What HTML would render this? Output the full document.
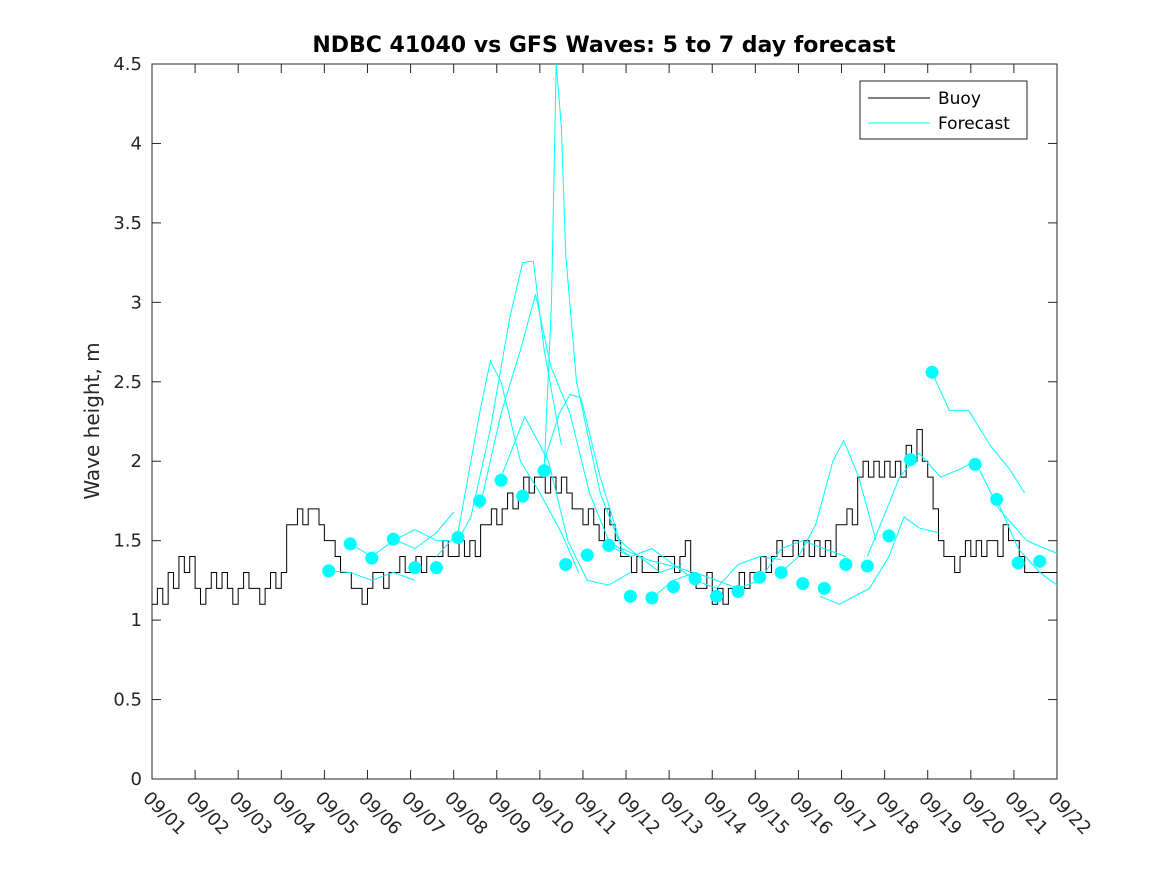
<!DOCTYPE html>
<html><head><meta charset="utf-8">
<style>
body{margin:0;background:#fff;}
svg{display:block;font-family:"DejaVu Sans","Liberation Sans",sans-serif;}
</style></head>
<body>
<svg id="chart" width="1167" height="875" viewBox="0 0 1167 875" xmlns="http://www.w3.org/2000/svg">
<rect width="1167" height="875" fill="#fff"/>
<text x="604" y="52" text-anchor="middle" font-size="22" font-weight="bold" fill="#000">NDBC 41040 vs GFS Waves: 5 to 7 day forecast</text>
<text transform="translate(99,421) rotate(-90)" text-anchor="middle" font-size="20" fill="#262626">Wave height, m</text>
<rect x="152" y="64" width="905" height="715" fill="#fff" stroke="#262626" stroke-width="1"/>
<g id="axes"></g>
<g id="series"></g>
<g>
<rect x="860" y="81" width="167" height="58" fill="#fff" stroke="#262626" stroke-width="1"/>
<line x1="868" y1="98" x2="930" y2="98" stroke="#000" stroke-width="1"/>
<text x="938" y="104" font-size="17" fill="#000">Buoy</text>
<line x1="868" y1="123" x2="930" y2="123" stroke="#00ffff" stroke-width="1"/>
<text x="938" y="129" font-size="17" fill="#000">Forecast</text>
</g>
</svg>
<script>
const xTickLabels=["09/01","09/02","09/03","09/04","09/05","09/06","09/07","09/08","09/09","09/10","09/11","09/12","09/13","09/14","09/15","09/16","09/17","09/18","09/19","09/20","09/21","09/22"];
const yTicks=[0,0.5,1,1.5,2,2.5,3,3.5,4,4.5];
const yTickLabels=["0","0.5","1","1.5","2","2.5","3","3.5","4","4.5"];
// buoy values every 3 hours from 09/01
const buoy=[
1.1,1.2,1.1,1.3,1.2,1.4,1.3,1.4,
1.2,1.1,1.2,1.3,1.2,1.3,1.2,1.1,
1.2,1.3,1.2,1.2,1.1,1.2,1.3,1.2,
1.3,1.6,1.6,1.7,1.6,1.7,1.7,1.6,
1.5,1.5,1.4,1.3,1.3,1.2,1.2,1.1,
1.2,1.3,1.3,1.2,1.3,1.3,1.4,1.3,
1.3,1.4,1.3,1.4,1.4,1.4,1.5,1.4,
1.4,1.5,1.4,1.5,1.4,1.6,1.6,1.7,
1.6,1.7,1.8,1.7,1.8,1.9,1.8,1.9,
1.9,1.8,1.9,1.8,1.9,1.8,1.7,1.7,
1.6,1.7,1.6,1.5,1.7,1.6,1.5,1.4,
1.4,1.3,1.4,1.3,1.3,1.3,1.4,1.4,
1.4,1.3,1.4,1.5,1.3,1.2,1.2,1.3,
1.1,1.2,1.1,1.2,1.2,1.3,1.2,1.3,
1.3,1.4,1.3,1.4,1.5,1.4,1.4,1.5,
1.4,1.5,1.4,1.5,1.4,1.5,1.4,1.6,
1.6,1.7,1.6,1.9,2.0,1.9,2.0,1.9,
2.0,1.9,2.0,1.9,2.1,2.0,2.2,2.0,
1.9,1.7,1.5,1.4,1.4,1.3,1.4,1.5,
1.4,1.5,1.4,1.5,1.5,1.4,1.6,1.5,
1.5,1.4,1.3,1.3,1.3,1.3,1.3,1.3];
const markerDays=[4.1,4.6,5.1,5.6,6.1,6.6,7.1,7.6,8.1,8.6,9.1,9.6,10.1,10.6,11.1,11.6,12.1,12.6,13.1,13.6,14.1,14.6,15.1,15.6,16.1,16.6,17.1,17.6,18.1,19.1,19.6,20.1,20.6];
const markerValues=[1.31,1.48,1.39,1.51,1.33,1.33,1.52,1.75,1.88,1.78,1.94,1.35,1.41,1.47,1.15,1.14,1.21,1.26,1.15,1.18,1.27,1.30,1.23,1.20,1.35,1.34,1.53,2.01,2.56,1.98,1.76,1.36,1.37];
const fcA=[[9.1,1.95],[9.27,3.0],[9.38,4.5],[9.5,4.1],[9.6,3.3],[9.85,2.5],[10.4,1.8],[10.9,1.45],[11.5,1.38],[12.2,1.33],[12.8,1.28]];
const fcB=[[7.1,1.5],[7.4,1.65],[7.85,2.2],[8.3,2.9],[8.6,3.25],[8.85,3.26],[9.1,2.7],[9.5,2.1]];
const fcC=[[6.6,1.4],[7.1,1.55],[7.6,2.3],[7.85,2.63],[8.1,2.5],[8.55,2.0],[9.0,1.8],[9.5,1.55],[9.9,1.3]];
const fcD=[[7.6,1.7],[8.1,2.3],[8.55,2.7],[8.9,3.05],[9.25,2.6],[9.7,2.3],[10.15,1.8],[10.6,1.5],[11.1,1.4]];
const fcE=[[9.1,2.0],[9.45,2.3],[9.7,2.42],[9.95,2.4],[10.4,1.9],[10.85,1.5],[11.3,1.4],[11.8,1.3],[12.3,1.35]];
const fcF=[[8.1,1.9],[8.65,2.28],[9.2,2.0],[9.65,1.5],[10.1,1.25],[10.6,1.22],[11.1,1.3]];
const fcG=[[14.6,1.3],[15.0,1.4],[15.4,1.6],[15.8,2.0],[16.05,2.13],[16.4,1.9],[16.8,1.5]];
const fcH=[[18.1,2.56],[18.5,2.32],[18.95,2.32],[19.45,2.1],[19.9,1.95],[20.25,1.8]];
const fcI=[[16.6,1.4],[17.35,1.9],[17.8,2.05],[18.3,1.9],[18.75,1.95],[19.1,2.0],[19.65,1.7],[20.3,1.5],[21.0,1.42]];
const fcJ=[[15.5,1.15],[15.95,1.1],[16.65,1.2],[17.1,1.4],[17.45,1.65],[17.8,1.58],[18.25,1.55]];
const fcK=[[4.1,1.31],[4.6,1.3],[5.1,1.25],[5.6,1.3],[6.1,1.25]];
const fcL=[[4.6,1.48],[5.1,1.4],[5.6,1.5],[6.1,1.57],[6.6,1.5],[6.9,1.5]];
const fcM=[[5.6,1.51],[6.1,1.45],[6.6,1.55],[7.0,1.68]];
const fcN=[[10.6,1.47],[11.1,1.4],[11.6,1.45],[12.1,1.35],[12.6,1.25],[13.1,1.2],[13.6,1.35],[14.1,1.4],[14.6,1.38]];
const fcO=[[11.6,1.14],[12.1,1.25],[12.6,1.3],[13.1,1.25],[13.6,1.2],[14.1,1.25],[14.6,1.45],[15.1,1.5],[15.6,1.45],[16.1,1.4]];
const fcP=[[19.6,1.76],[20.1,1.45],[20.6,1.3],[21.0,1.22]];
const forecasts=[fcA,fcB,fcC,fcD,fcE,fcF,fcG,fcH,fcI,fcJ,fcK,fcL,fcM,fcN,fcO,fcP];

const X0=152,X1=1057,Y0=779,Y1=64,DAYS=21,YMAX=4.5,PER_DAY=8;
const xs=d=>X0+d/DAYS*(X1-X0);
const ys=v=>Y0-v/YMAX*(Y0-Y1);
const NS="http://www.w3.org/2000/svg";
function mk(tag,attrs,parent){const e=document.createElementNS(NS,tag);for(const k in attrs)e.setAttribute(k,attrs[k]);parent.appendChild(e);return e;}
const axes=document.getElementById('axes'),series=document.getElementById('series');
yTicks.forEach((v,i)=>{
  const y=ys(v);
  const t1=mk('line',{x1:X0,y1:y,x2:X0+9,y2:y,stroke:'#262626'},axes);
  
  
  const t2=mk('line',{x1:X1,y1:y,x2:X1-9,y2:y,stroke:'#262626'},axes);
  
  
  const tx=mk('text',{x:X0-10,y:y+6,'text-anchor':'end','font-size':'18',fill:'#262626'},axes);
  tx.textContent=yTickLabels[i];
  
  
});
xTickLabels.forEach((lab,i)=>{
  const x=xs(i);
  const t1=mk('line',{x1:x,y1:Y0,x2:x,y2:Y0-9,stroke:'#262626'},axes);
  
  
  const t2=mk('line',{x1:x,y1:Y1,x2:x,y2:Y1+9,stroke:'#262626'},axes);
  
  
  const tx=mk('text',{x:x-10,y:Y0+20,'font-size':'18',fill:'#262626',transform:`rotate(45 ${x-10} ${Y0+20})`},axes);
  tx.textContent=lab;
  
  
});
let d='';
buoy.forEach((v,i)=>{const y=ys(v);if(i===0)d+=`M${xs(0)},${y}`;else d+=`V${y}`;d+=`H${xs(Math.min((i+1)/PER_DAY,DAYS))}`;});
const bp=mk('path',{d:d,fill:'none',stroke:'#000','stroke-width':'1'},series);


forecasts.forEach(f=>{
  const p=mk('polyline',{points:f.map(q=>xs(q[0])+','+ys(q[1])).join(' '),fill:'none',stroke:'#00ffff','stroke-width':'1'},series);
  
  
});
markerDays.forEach((dd,i)=>{
  const c=mk('circle',{cx:xs(dd),cy:ys(markerValues[i]),r:6.5,fill:'#00ffff'},series);
  
  
});
</script>
</body></html>
